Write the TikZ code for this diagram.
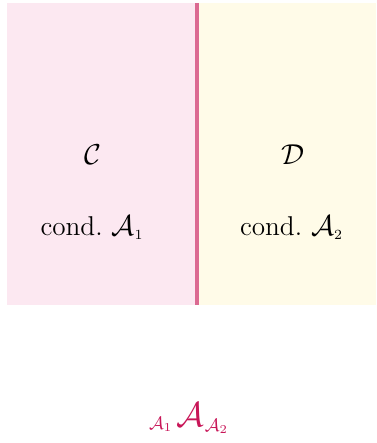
\documentclass[tikz,border=0pt]{standalone}
\usepackage{amsmath,amssymb}
\usepackage{xcolor}
\usepackage{tikz}

\definecolor{leftpink}{RGB}{252,232,241}
\definecolor{rightcream}{RGB}{255,251,232}
\definecolor{divpink}{RGB}{219,106,146}
\definecolor{algmag}{RGB}{200,22,88}

\begin{document}
\begin{tikzpicture}[x=1pt, y=1pt,
    panel/.style={draw=none, fill=#1, inner sep=0pt, anchor=south west},
    tag/.style={font=\fontsize{13.6}{16}\selectfont, inner sep=1pt}
]
\useasboundingbox (0,0) rectangle (188,221.5);
\node[panel=leftpink, minimum width=94pt, minimum height=151pt] (lpanel) at (3.5,69) {};
\node[panel=rightcream, minimum width=88.5pt, minimum height=151pt] (rpanel) at (99.5,69) {};
\coordinate (divtop) at (98.5,220);
\coordinate (divbot) at (98.5,69);
\draw[divpink, line width=2pt] (divbot) -- (divtop);
\node[tag] (catc) at (46.5,144) {$\mathcal{C}$};
\node[tag] (catd) at (146.5,144) {$\mathcal{D}$};
\node[tag] (condl) at (46,107.5) {cond.\ $\mathcal{A}_{\scriptscriptstyle 1}$};
\node[tag] (condr) at (145.75,107.5) {cond.\ $\mathcal{A}_{\scriptscriptstyle 2}$};
\node[text=algmag, anchor=base, inner sep=0pt] (alg) at (94.3,8.5)
  {\raisebox{-1.5pt}{\small$\mathcal{A}_1$}\hspace{2pt}{\LARGE$\mathcal{A}$}\hspace{0.5pt}\raisebox{-2.5pt}{\small$\mathcal{A}_2$}};
\end{tikzpicture}
\end{document}
